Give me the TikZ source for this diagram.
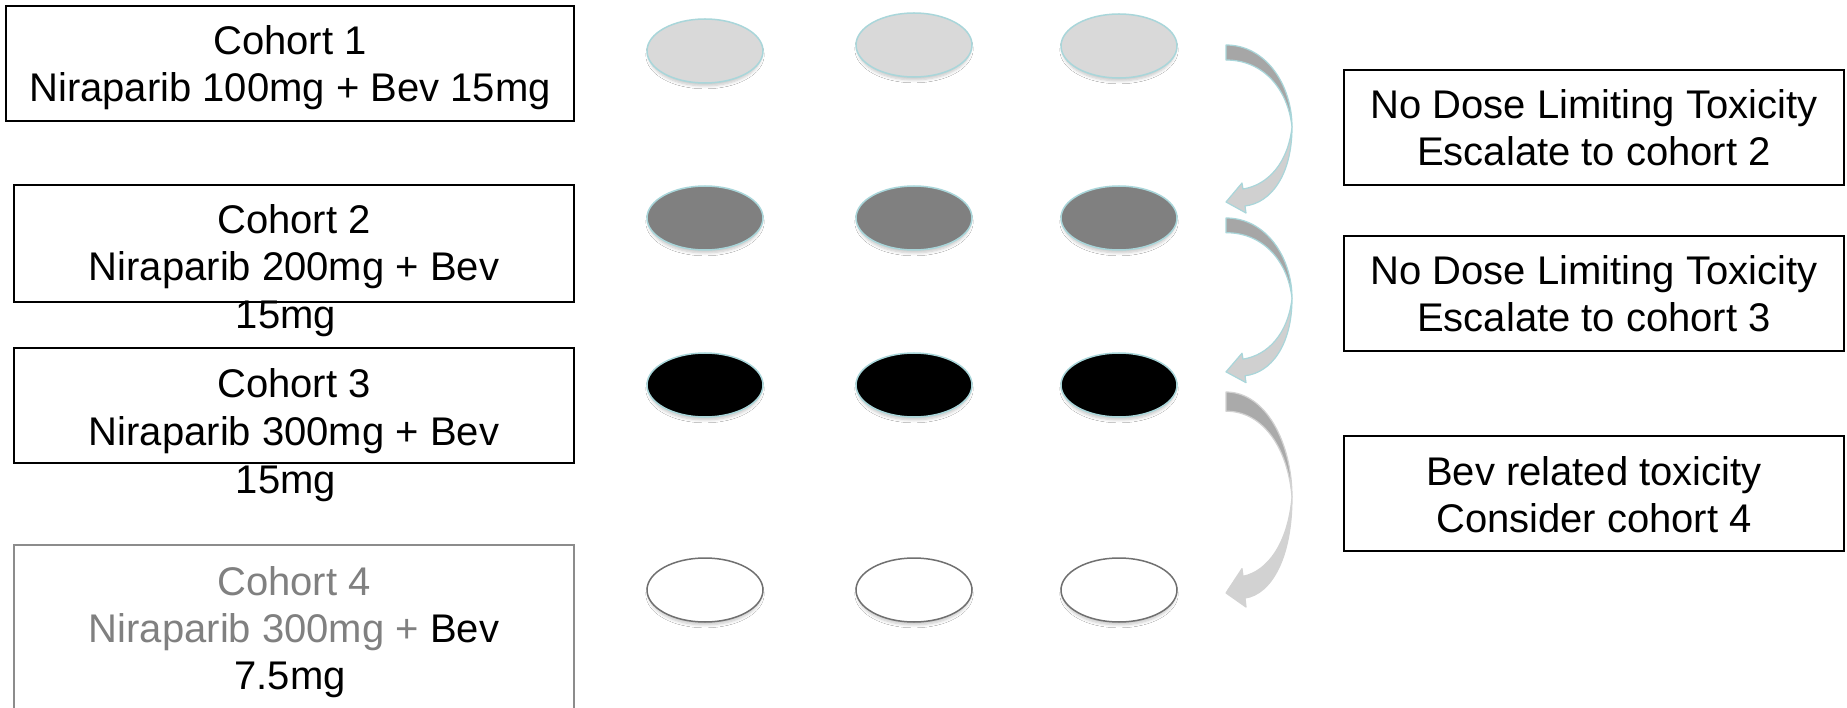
\documentclass[tikz,border=0pt]{standalone}
\usepackage{fontspec}
\setmainfont{Liberation Sans}
\usetikzlibrary{shapes.geometric,shadows.blur}
\definecolor{tealline}{HTML}{A9D6DA}
\definecolor{row1}{HTML}{D9D9D9}
\definecolor{row2}{HTML}{808080}
\definecolor{row4line}{HTML}{707070}
\definecolor{greytext}{HTML}{808080}
\definecolor{greybox}{HTML}{8C8C8C}
\definecolor{arrdark}{HTML}{A6A6A6}
\definecolor{arrlight}{HTML}{D0D0D0}
\newcommand{\cohortarrow}[5]{%
  \begin{scope}[shift={(1226,#1)}, yscale=#2]
    \filldraw[fill=#3, draw=#5, line width=1.2pt, line join=round]
      (0,0) .. controls (40,0) and (66,40) .. (66,82)
      .. controls (62,45) and (38,15) .. (0,15) -- cycle;
    \filldraw[fill=#4, draw=#5, line width=1.2pt, line join=round]
      (66,82) .. controls (66,130) and (45,158) .. (19,161)
      -- (20,168) -- (0,157) -- (16,138) -- (17,144)
      .. controls (42,140) and (62,118) .. (66,82) -- cycle;
  \end{scope}}
\begin{document}
\begin{tikzpicture}[x=1pt,y=-1pt,
  cbox/.style={draw=black, line width=1.5pt, inner sep=0pt},
  txt/.style={font=\fontsize{40}{47}\selectfont, anchor=base, inner sep=0pt},
  oval/.style={ellipse, minimum width=116pt, minimum height=64pt, inner sep=0pt,
    line width=1.5pt,
    blur shadow={shadow xshift=0pt, shadow yshift=-4pt, shadow scale=0.97, shadow opacity=22, shadow blur radius=3pt, shadow blur steps=6}},
  ov1/.style={oval, fill=row1, draw=tealline},
  ov2/.style={oval, fill=row2, draw=tealline},
  ov3/.style={oval, fill=black, draw=tealline},
  ov4/.style={oval, fill=white, draw=row4line}]
\useasboundingbox[fill=white] (0,0) rectangle (1847,708);

% left cohort boxes
\node[cbox, minimum width=568pt, minimum height=115pt] (b1) at (290,63.5) {};
\node[cbox, minimum width=560pt, minimum height=117pt] (b2) at (294,243.5) {};
\node[cbox, minimum width=560pt, minimum height=115pt] (b3) at (294,405.5) {};
\node[cbox, draw=greybox, minimum width=560pt, minimum height=170pt] (b4) at (294,630) {};

\node[txt] (t1a) at (290,55) {Cohort 1};
\node[txt] (t1b) at (290,102) {Niraparib 100mg + Bev 15mg};
\node[txt] (t2a) at (294,234) {Cohort 2};
\node[txt] (t2b) at (294,281) {Niraparib 200mg + Bev};
\node[txt] (t2c) at (286,329) {15mg};
\node[txt] (t3a) at (294,398) {Cohort 3};
\node[txt] (t3b) at (294,445) {Niraparib 300mg + Bev};
\node[txt] (t3c) at (286,493) {15mg};
\node[txt, text=greytext] (t4a) at (294,595) {Cohort 4};
\node[txt] (t4b) at (294,642) {\textcolor{greytext}{Niraparib 300mg +} Bev};
\node[txt] (t4c) at (290,689) {7.5mg};

% right decision boxes
\node[cbox, minimum width=500pt, minimum height=115pt] (r1) at (1594,127.5) {};
\node[cbox, minimum width=500pt, minimum height=115pt] (r2) at (1594,293.5) {};
\node[cbox, minimum width=500pt, minimum height=115pt] (r3) at (1594,493.5) {};
\node[txt] (r1a) at (1594,119) {No Dose Limiting Toxicity};
\node[txt] (r1b) at (1594,166) {Escalate to cohort 2};
\node[txt] (r2a) at (1594,285) {No Dose Limiting Toxicity};
\node[txt] (r2b) at (1594,332) {Escalate to cohort 3};
\node[txt] (r3a) at (1594,485) {Bev related toxicity};
\node[txt] (r3b) at (1594,532) {Consider cohort 4};

% patient ovals
\node[ov1] (e11) at (705,51) {};
\node[ov1] (e12) at (914,45) {};
\node[ov1] (e13) at (1119,46) {};
\node[ov2] (e21) at (705,218) {};
\node[ov2] (e22) at (914,218) {};
\node[ov2] (e23) at (1119,218) {};
\node[ov3] (e31) at (705,385) {};
\node[ov3] (e32) at (914,385) {};
\node[ov3] (e33) at (1119,385) {};
\node[ov4] (e41) at (705,590) {};
\node[ov4] (e42) at (914,590) {};
\node[ov4] (e43) at (1119,590) {};

% curved escalation arrows
\cohortarrow{45}{1}{arrdark}{arrlight}{tealline}
\cohortarrow{218}{0.98}{arrdark}{arrlight}{tealline}
\cohortarrow{392}{1.28}{arrdark!95}{arrlight!95}{gray!35}
\end{tikzpicture}
\end{document}
